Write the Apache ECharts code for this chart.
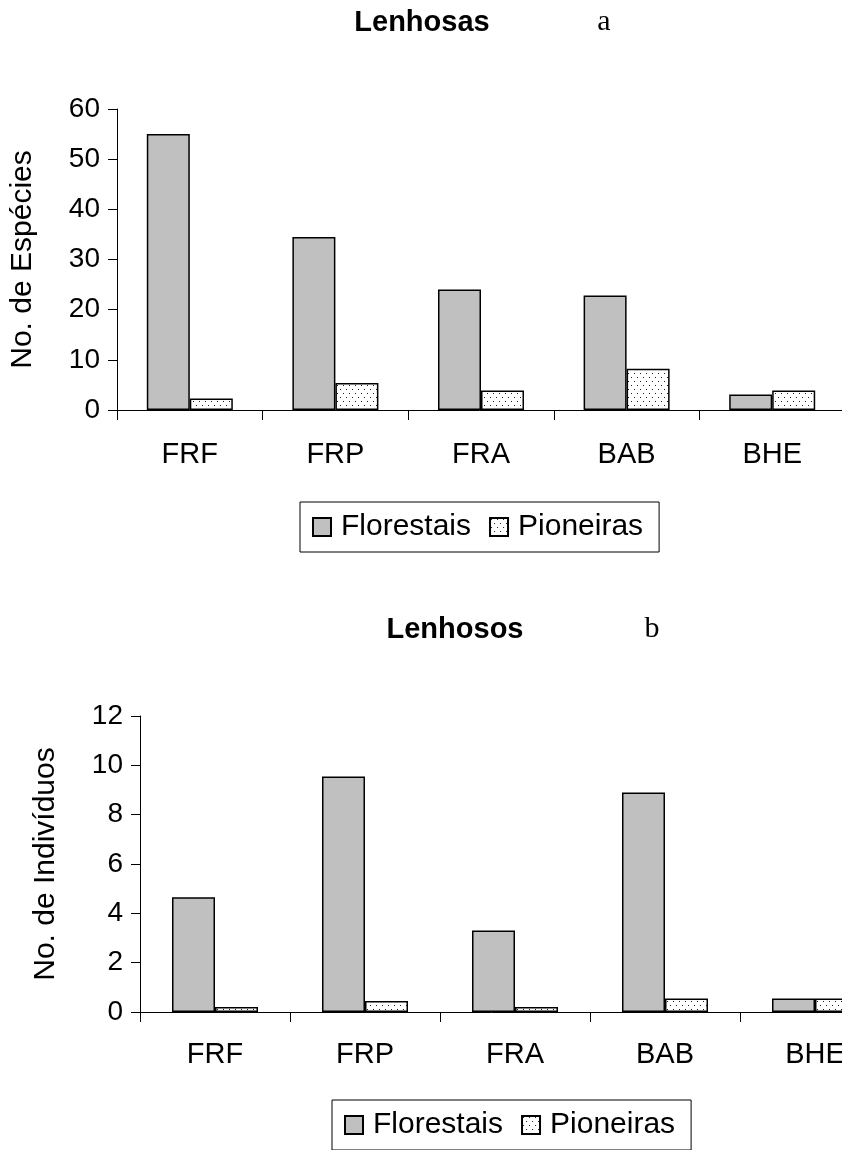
<!DOCTYPE html>
<html><head><meta charset="utf-8">
<script src="https://cdn.jsdelivr.net/npm/echarts@6/dist/echarts.min.js"></script>
<style>html,body{margin:0;padding:0;background:#fff}#c{width:842px;height:1150px}</style>
</head><body><div id="c"></div>
<script>
const categories = ['FRF', 'FRP', 'FRA', 'BAB', 'BHE'];
const seriesNames = ['Florestais', 'Pioneiras'];
const especiesFlorestais = [55, 34.5, 24, 22.8, 3.1];
const especiesPioneiras = [2.3, 5.4, 3.9, 8.2, 3.9];
const individuosFlorestais = [4.65, 9.55, 3.3, 8.9, 0.55];
const individuosPioneiras = [0.2, 0.45, 0.2, 0.55, 0.55];
const titleA = 'Lenhosas', letterA = 'a';
const titleB = 'Lenhosos', letterB = 'b';
const yNameA = 'No. de Espécies';
const yNameB = 'No. de Indivíduos';

const FONT = '"Liberation Sans", Arial, sans-serif';
const pc = document.createElement('canvas'); pc.width = 6; pc.height = 8;
const g = pc.getContext('2d');
g.fillStyle = '#fff'; g.fillRect(0, 0, 6, 8);
g.fillStyle = '#222'; g.fillRect(1, 1, 1, 1); g.fillRect(4, 5, 1, 1);
const dotted = { image: pc, repeat: 'repeat' };

const chart = echarts.init(document.getElementById('c'), null, { renderer: 'canvas' });
const axisLine = { show: true, lineStyle: { color: '#000', width: 1 } };
function xAx(i, margin) {
  return {
    type: 'category', gridIndex: i, data: categories, boundaryGap: true,
    axisLine, axisTick: { show: true, length: 10, lineStyle: { color: '#000' } },
    axisLabel: { fontSize: 29, color: '#000', fontFamily: FONT, margin, interval: 0 }
  };
}
function yAx(i, max, interval, name) {
  return {
    type: 'value', gridIndex: i, min: 0, max, interval, name,
    nameLocation: 'middle', nameGap: 79,
    nameTextStyle: { fontSize: 30, color: '#000', fontFamily: FONT },
    axisLine, axisTick: { show: true, length: 9, lineStyle: { color: '#000' } },
    splitLine: { show: false },
    axisLabel: { fontSize: 28, color: '#000', fontFamily: FONT, margin: 17 }
  };
}
function bar(name, data, i, fill) {
  return {
    type: 'bar', name, data, xAxisIndex: i, yAxisIndex: i,
    barWidth: 43, barGap: '0%',
    itemStyle: { color: fill, borderColor: '#000', borderWidth: 1.5 }
  };
}
function legend(left, top) {
  return {
    data: seriesNames, left, top, orient: 'horizontal',
    borderColor: '#000', borderWidth: 1, padding: [10, 16, 10, 12],
    icon: 'rect', itemWidth: 18, itemHeight: 18, itemGap: 18,
    textStyle: { fontSize: 30, color: '#000', fontFamily: FONT, padding: [0, 0, 0, 5] },
    selectedMode: false
  };
}
chart.setOption({
  animation: false,
  backgroundColor: '#fff',
  grid: [
    { left: 117, top: 109, width: 728, height: 301, outerBoundsMode: 'none', containLabel: false },
    { left: 140, top: 716, width: 750, height: 296, outerBoundsMode: 'none', containLabel: false }
  ],
  xAxis: [xAx(0, 30), xAx(1, 28)],
  yAxis: [yAx(0, 60, 10, yNameA), yAx(1, 12, 2, yNameB)],
  legend: [legend(300, 502), legend(332, 1100)],
  series: [
    bar(seriesNames[0], especiesFlorestais, 0, '#c0c0c0'),
    bar(seriesNames[1], especiesPioneiras, 0, dotted),
    bar(seriesNames[0], individuosFlorestais, 1, '#c0c0c0'),
    bar(seriesNames[1], individuosPioneiras, 1, dotted)
  ],
  graphic: [
    { type: 'text', x: 422, y: 23, style: { text: titleA, font: 'bold 29px ' + FONT, fill: '#000', align: 'center', verticalAlign: 'middle' } },
    { type: 'text', x: 604, y: 22, style: { text: letterA, font: '30px "Liberation Serif", "Times New Roman", serif', fill: '#000', align: 'center', verticalAlign: 'middle' } },
    { type: 'text', x: 455, y: 630, style: { text: titleB, font: 'bold 29px ' + FONT, fill: '#000', align: 'center', verticalAlign: 'middle' } },
    { type: 'text', x: 652, y: 629, style: { text: letterB, font: '30px "Liberation Serif", "Times New Roman", serif', fill: '#000', align: 'center', verticalAlign: 'middle' } }
  ]
});
</script></body></html>
